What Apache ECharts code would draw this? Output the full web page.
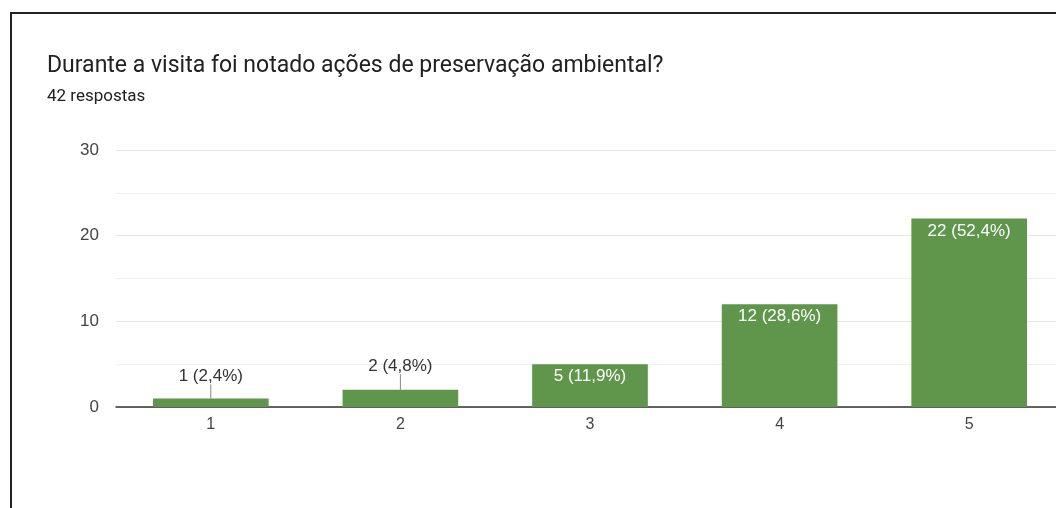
<!DOCTYPE html>
<html>
<head>
<meta charset="utf-8">
<script src="https://cdn.jsdelivr.net/npm/echarts@6/dist/echarts.min.js"></script>
<style>
  html, body { margin: 0; padding: 0; background: #fff; overflow: hidden; }
  #frame { position: absolute; left: 10px; top: 12px; width: 1100px; height: 600px; border: 2px solid #222; }
  #chart { position: absolute; left: 0; top: 0; width: 1064px; height: 508px; }
</style>
</head>
<body>
<div id="frame"></div>
<div id="chart"></div>
<script>
const titleText = 'Durante a visita foi notado ações de preservação ambiental?'
const subText = '42 respostas'
const categories = ['1', '2', '3', '4', '5']
const counts = [1, 2, 5, 12, 22]
const percents = ['2,4', '4,8', '11,9', '28,6', '52,4']
const yTicks = [0, 10, 20, 30]

const green = '#5f964c'

// barras pequenas: rótulo acima com linha; grandes: rótulo branco dentro
const barData = counts.map((v, i) => {
  const small = v < 4
  return {
    value: v,
    label: small
      ? { position: 'top', color: '#333', distance: 2 }
      : { position: 'insideTop', color: '#fff', distance: 4 },
    labelLine: { show: small, lineStyle: { color: '#888', width: 1 } }
  }
})

const chart = echarts.init(document.getElementById('chart'))
chart.setOption({
  animation: false,
  title: {
    text: titleText,
    subtext: subText,
    left: 42,
    top: 50,
    itemGap: 10,
    textStyle: { fontFamily: 'Roboto', fontSize: 23, fontWeight: 'normal', color: '#202124' },
    subtextStyle: { fontFamily: 'Roboto', fontSize: 17, color: '#202124' }
  },
  grid: { left: 116, right: 0, top: 150, bottom: 101, containLabel: false },
  xAxis: {
    type: 'category',
    data: categories,
    axisTick: { show: false },
    axisLine: { lineStyle: { color: '#333', width: 1.5 } },
    axisLabel: { fontFamily: 'Liberation Sans', fontSize: 16, color: '#444', margin: 10 }
  },
  yAxis: {
    type: 'value',
    min: yTicks[0],
    max: yTicks[yTicks.length - 1],
    interval: 10,
    axisLine: { show: false },
    axisTick: { show: false },
    axisLabel: { fontFamily: 'Liberation Sans', fontSize: 17, color: '#444', margin: 17 },
    splitLine: { lineStyle: { color: '#e6e6e6' } },
    minorTick: { show: false, splitNumber: 2 },
    minorSplitLine: { show: true, lineStyle: { color: '#eeeeee' } }
  },
  series: [{
    type: 'bar',
    data: barData,
    barWidth: '61%',
    itemStyle: { color: green },
    label: {
      show: true,
      fontFamily: 'Liberation Sans',
      fontSize: 17,
      formatter: p => p.value + ' (' + percents[p.dataIndex] + '%)'
    },
    labelLayout: p => (counts[p.dataIndex] < 4 ? { dy: -12 - p.dataIndex * 1.5 } : {})
  }]
})
</script>
</body>
</html>
